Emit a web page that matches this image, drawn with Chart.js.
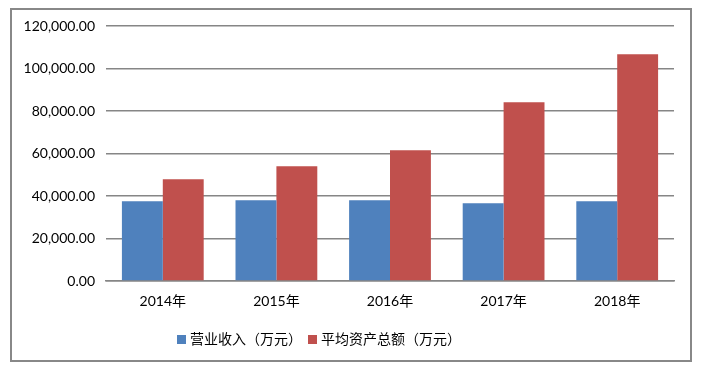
<!DOCTYPE html>
<html>
<head>
<meta charset="utf-8">
<script src="https://cdn.jsdelivr.net/npm/chart.js@4"></script>
<style>
    html, body { margin: 0; padding: 0; background: #fff; }
    #wrap { position: relative; width: 709px; height: 365px; }
    #frame {
        position: absolute; left: 10px; top: 8px; width: 678px; height: 350px;
        border: 2px solid #888888; pointer-events: none;
    }
    canvas { position: absolute; left: 0; top: 0; }
    #legend {
        position: absolute; left: 177px; top: 328px;
        font: 14px Lato, 'Noto Sans CJK SC', sans-serif; color: #000;
        white-space: nowrap;
    }
    .legend-item { display: inline-block; margin-right: 6px; }
    .legend-box {
        display: inline-block; width: 9px; height: 9px; margin-right: 4px;
        vertical-align: 0px;
    }
</style>
</head>
<body>
<div id="wrap">
    <canvas id="barChart" width="709" height="365"></canvas>
    <div id="frame"></div>
    <div id="legend"></div>
</div>
<script>
const years = ['2014年', '2015年', '2016年', '2017年', '2018年'];
const revenue = [37500, 38000, 38000, 36600, 37500];       // 营业收入（万元）
const avgAssets = [47900, 54000, 61500, 84100, 106700];   // 平均资产总额（万元）
const seriesNames = ['营业收入（万元）', '平均资产总额（万元）'];
const COLORS = ['#4F81BD', '#C0504D'];

const FONT = "Lato, 'Noto Sans CJK SC', sans-serif";

function formatTick(v) {
    return v.toLocaleString('en-US', { minimumFractionDigits: 2, maximumFractionDigits: 2 });
}

const ctx = document.getElementById('barChart').getContext('2d');
const chart = new Chart(ctx, {
    type: 'bar',
    data: {
        labels: years,
        datasets: [
            {
                label: seriesNames[0],
                data: revenue,
                backgroundColor: COLORS[0],
                categoryPercentage: 0.72,
                barPercentage: 1
            },
            {
                label: seriesNames[1],
                data: avgAssets,
                backgroundColor: COLORS[1],
                categoryPercentage: 0.72,
                barPercentage: 1
            }
        ]
    },
    options: {
        responsive: false,
        animation: false,
        layout: { padding: { top: 26, right: 35, bottom: 54, left: 0 } },
        scales: {
            x: {
                grid: { display: false },
                border: { color: '#868686', width: 1.5 },
                afterFit: scale => { scale.height = 30; },
                ticks: { color: '#000', font: { family: FONT, size: 14 }, padding: 4 }
            },
            y: {
                min: 0,
                max: 120000,
                border: { display: false },
                grid: { color: '#868686', lineWidth: 1.5, drawTicks: false },
                afterFit: scale => { scale.width = 106; },
                ticks: {
                    stepSize: 20000,
                    color: '#000',
                    padding: 11,
                    font: { family: FONT, size: 14 },
                    callback: v => formatTick(v)
                }
            }
        },
        plugins: {
            tooltip: { enabled: false },
            legend: { display: false }
        }
    }
});

// legend drawn as html so it can sit left of centre like the original
let legHtml = '';
chart.data.datasets.forEach(ds => {
    legHtml += `<span class="legend-item"><span class="legend-box" style="background:${ds.backgroundColor}"></span>${ds.label}</span>`;
});
document.getElementById('legend').innerHTML = legHtml;
</script>
</body>
</html>
